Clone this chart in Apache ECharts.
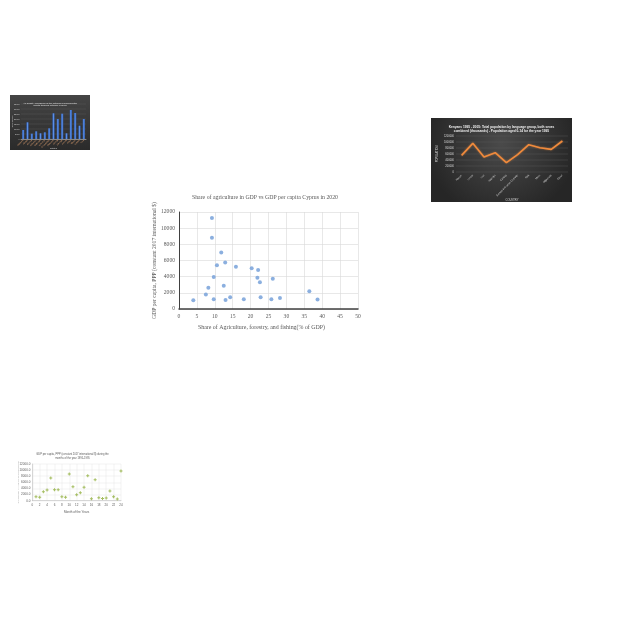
<!DOCTYPE html>
<html><head><meta charset="utf-8">
<script src="https://cdn.jsdelivr.net/npm/echarts@6/dist/echarts.min.js"></script>
<style>
html,body{margin:0;padding:0;background:#fff;width:640px;height:640px;overflow:hidden;}
.c{position:absolute;}
</style></head>
<body>
<div id="main" class="c" style="left:140px;top:185px;width:250px;height:150px;"></div>
<div id="tl" class="c" style="left:10px;top:95px;width:80px;height:55px;"></div>
<div id="tr" class="c" style="left:431px;top:118px;width:141px;height:84px;"></div>
<div id="bl" class="c" style="left:15px;top:445px;width:115px;height:75px;"></div>
<script>
// ---- main scatter: Cyprus 2020 ----
const mainTitle = 'Share of agriculture in GDP vs GDP per capita Cyprus in 2020';
const agriShare = [4.0, 7.5, 8.2, 9.2, 9.2, 9.7, 9.7, 10.6, 11.8, 12.5, 12.9, 13.0, 14.3, 15.9, 18.1, 20.3, 22.1, 21.9, 22.6, 22.8, 26.2, 25.8, 28.2, 36.4, 38.7];
const gdpPerCap = [1080, 1780, 2620, 11250, 8800, 3950, 1200, 5400, 6980, 2870, 5750, 1120, 1450, 5230, 1200, 5030, 4820, 3860, 3320, 1450, 3740, 1200, 1370, 2200, 1160];
const mainXTitle = 'Share of Agriculture, forestry, and fishing(% of GDP)';
const mainYTitle = 'GDP per capita, PPP (constant 2017 international $)';

// ---- top-left bar thumbnail ----
const tlTitle = 'Air quality: Measures of the national environmental\nhealth tracking network in 2008';
const tlCats = ['Alabama','Alaska','Arizona','Arkansas','California','Colorado','Connecticut','Delaware','Florida','Georgia','Hawaii','Idaho','Illinois','Indiana','Iowa'];
const tlVals = [9000, 16700, 5300, 7700, 5700, 6700, 10700, 25700, 20000, 25300, 5700, 29000, 26000, 13300, 20000];

// ---- top-right line thumbnail ----
const trTitle = 'Kenyans 1995 - 2005: Total population by language group, both sexes\ncombined (thousands) - Population aged 0-14 for the year 1995';
const trCats = ['Kikuyu','Luhya','Luo','Kalenjin','Kamba','Somali and other Cushitic','Kisii','Meru','Mijikenda','Other'];
const trVals = [555000, 955000, 500000, 645000, 311000, 578000, 911000, 811000, 755000, 1033000];

// ---- bottom-left scatter thumbnail ----
const blTitle = 'GDP per capita, PPP (constant 2017 international $) during the\nmonths of the year 1995-1995';
const blMonths = [1,2,3,4,5,6,7,8,9,10,11,12,13,14,15,16,17,18,19,20,21,22,23,24];
const blVals = [1300, 1090, 2950, 3490, 7420, 3600, 3600, 1310, 1090, 8730, 4580, 1960, 2620, 4360, 8180, 650, 6870, 980, 760, 870, 3160, 1310, 550, 9710];

const serif = '"Liberation Serif", "DejaVu Serif", serif';
const sans = '"Liberation Sans", Arial, sans-serif';
const plain = v => String(v);

// main
echarts.init(document.getElementById('main')).setOption({
  animation:false,
  title:{text:mainTitle,left:'center',top:4,textStyle:{fontFamily:serif,fontSize:5.8,fontWeight:'normal',color:'#595959'}},
  grid:{left:39,top:27,width:179,height:97,outerBoundsMode:'none',containLabel:false},
  xAxis:{type:'value',min:0,max:50,interval:5,
    name:mainXTitle,nameLocation:'middle',nameGap:15,nameMoveOverlap:false,
    nameTextStyle:{fontFamily:serif,fontSize:5.9,color:'#595959',padding:[0,14,0,0]},
    axisLine:{lineStyle:{color:'#404040',width:1.5}},axisTick:{show:false},
    axisLabel:{fontFamily:serif,fontSize:5.6,color:'#595959',margin:5,formatter:plain},
    splitLine:{lineStyle:{color:'#d9d9d9',width:0.6}}},
  yAxis:{type:'value',min:0,max:12000,interval:2000,
    name:mainYTitle,nameLocation:'middle',nameGap:21,nameMoveOverlap:false,
    nameTextStyle:{fontFamily:serif,fontSize:5.6,color:'#595959'},
    axisLine:{show:true,lineStyle:{color:'#404040',width:1}},axisTick:{show:false},
    axisLabel:{fontFamily:serif,fontSize:5.6,color:'#595959',margin:4,formatter:plain},
    splitLine:{lineStyle:{color:'#d9d9d9',width:0.6}}},
  series:[{type:'scatter',symbolSize:4,
    itemStyle:{color:'#7ea6db',opacity:0.9},
    data:agriShare.map((x,i)=>[x,gdpPerCap[i]])}]
});

// top-left
echarts.init(document.getElementById('tl')).setOption({
  animation:false,
  backgroundColor:{type:'linear',x:0,y:0,x2:0,y2:1,colorStops:[{offset:0,color:'#454545'},{offset:1,color:'#2a2a2a'}]},
  title:{text:tlTitle,left:'center',top:1.5,textStyle:{fontFamily:sans,fontSize:2.4,lineHeight:2.8,fontWeight:'normal',color:'#e8e8e8'}},
  grid:{left:11,top:9,width:65,height:35,outerBoundsMode:'none',containLabel:false},
  xAxis:{type:'category',data:tlCats,
    name:'States',nameLocation:'middle',nameGap:8,nameMoveOverlap:false,nameTextStyle:{fontSize:2.4,color:'#d0d0d0'},
    axisLine:{lineStyle:{color:'#888'}},axisTick:{show:false},
    axisLabel:{interval:0,rotate:45,fontSize:2,color:'#e0a070',margin:1}},
  yAxis:{type:'value',min:0,max:35000,interval:5000,
    name:'Total deaths',nameLocation:'middle',nameGap:8,nameMoveOverlap:false,nameTextStyle:{fontSize:2.2,color:'#d0d0d0'},
    axisLine:{show:false},axisTick:{show:false},
    axisLabel:{fontSize:2,color:'#d0d0d0',margin:1.5,formatter:plain},
    splitLine:{lineStyle:{color:'#5a5a5a',width:0.4}}},
  series:[{type:'bar',data:tlVals,barWidth:'50%',
    itemStyle:{color:{type:'linear',x:0,y:0,x2:1,y2:0,colorStops:[{offset:0,color:'#2f5fb5'},{offset:0.5,color:'#5b8ee6'},{offset:1,color:'#2f5fb5'}]}}}]
});

// top-right
echarts.init(document.getElementById('tr')).setOption({
  animation:false,
  backgroundColor:{type:'radial',x:0.5,y:0.3,r:0.9,colorStops:[{offset:0,color:'#4a4a4a'},{offset:1,color:'#262626'}]},
  title:{text:trTitle,left:'center',top:2.5,textStyle:{fontFamily:sans,fontSize:3.2,lineHeight:3.8,fontWeight:'bold',color:'#f0f0f0'}},
  grid:{left:25,top:18,width:112,height:36,outerBoundsMode:'none',containLabel:false},
  xAxis:{type:'category',data:trCats,
    name:'COUNTRY',nameLocation:'middle',nameGap:27,nameMoveOverlap:false,nameTextStyle:{fontSize:2.6,color:'#d8d8d8'},
    axisLine:{show:false},axisTick:{show:false},
    axisLabel:{interval:0,rotate:45,fontSize:2.6,color:'#d8d8d8',margin:3}},
  yAxis:{type:'value',min:0,max:1200000,interval:200000,
    name:'POPULATION',nameLocation:'middle',nameGap:17,nameMoveOverlap:false,nameTextStyle:{fontSize:2.6,color:'#d8d8d8'},
    axisLine:{show:false},axisTick:{show:false},
    axisLabel:{fontSize:2.6,color:'#d8d8d8',margin:2,formatter:plain},
    splitLine:{lineStyle:{color:'#5c5c5c',width:0.4}}},
  series:[{type:'line',data:trVals,symbol:'none',
    lineStyle:{color:'#f08a3c',width:1.6,shadowColor:'rgba(240,140,60,0.6)',shadowBlur:2}}]
});

// bottom-left
echarts.init(document.getElementById('bl')).setOption({
  animation:false,
  title:{text:blTitle,left:'center',top:3,textStyle:{fontFamily:sans,fontSize:2.6,lineHeight:3.2,fontWeight:'normal',color:'#595959'}},
  grid:{left:17.3,top:19,width:88.7,height:36.7,outerBoundsMode:'none',containLabel:false},
  xAxis:{type:'value',min:0,max:24,interval:2,
    name:'Month of the Years',nameLocation:'middle',nameGap:10,nameMoveOverlap:false,nameTextStyle:{fontSize:3,color:'#595959'},
    axisLine:{lineStyle:{color:'#bfbfbf',width:0.6}},axisTick:{show:false},
    axisLabel:{fontSize:3,color:'#595959',margin:2.5,formatter:plain},
    splitLine:{lineStyle:{color:'#e0e0e0',width:0.4}}},
  yAxis:{type:'value',min:0,max:12000,interval:2000,
    name:'GDP per capita, PPP (constant 2017 international $)',nameLocation:'middle',nameGap:13,nameMoveOverlap:false,nameTextStyle:{fontSize:1.8,color:'#9a9a9a'},
    axisLine:{show:true,lineStyle:{color:'#bfbfbf',width:0.6}},axisTick:{show:false},
    axisLabel:{fontSize:3,color:'#595959',margin:2,formatter:v=>v.toFixed(1)},
    splitLine:{lineStyle:{color:'#e0e0e0',width:0.4}}},
  series:[{type:'scatter',symbol:'path://M2,0H4V2H6V4H4V6H2V4H0V2H2Z',symbolSize:3,
    itemStyle:{color:'#8fae3a'},
    data:blMonths.map((m,i)=>[m,blVals[i]])}]
});
</script>
</body></html>
